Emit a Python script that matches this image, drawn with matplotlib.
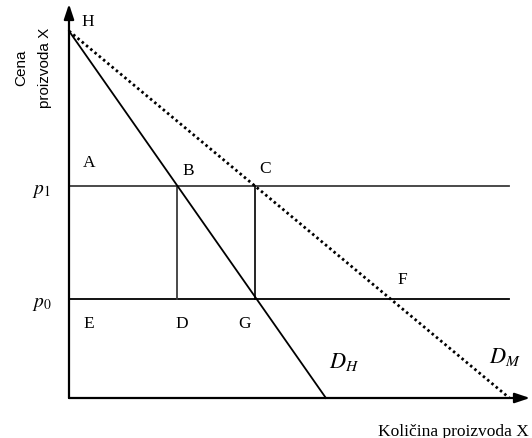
import matplotlib
matplotlib.use("Agg")
import matplotlib.pyplot as plt

# Data (model units)
price_max = 10.0          # H: common vertical intercept
qty_home = 7.0            # D_H horizontal intercept
qty_market = 12.0         # D_M horizontal intercept
p1 = 5.78
p0 = 2.70
line_end = 12.0
point_labels = ["H", "A", "B", "C", "F", "E", "D", "G"]

plt.rcParams["mathtext.fontset"] = "stix"
serif = ["Liberation Serif", "DejaVu Serif"]
sans = ["Liberation Sans", "DejaVu Sans"]

W, H = 532, 439
s = 36.7  # px per unit
ox, oy = 69, 399

fig = plt.figure(figsize=(W / 100, H / 100), dpi=100)
ax = fig.add_axes([0, 0, 1, 1])
ax.set_xlim(-ox / s, (W - ox) / s)
ax.set_ylim(-(H - oy) / s, oy / s)
ax.axis("off")

def qx(curve_int, p):
    return curve_int * (1 - p / price_max)

xB = qx(qty_home, p1)
xC = qx(qty_market, p1)

# axes arrows
ax.annotate("", xy=(0, (oy - 5) / s), xytext=(0, 0),
            arrowprops=dict(arrowstyle="-|>,head_length=0.9,head_width=0.3", color="black", lw=1.6,
                            shrinkA=0, shrinkB=0))
ax.annotate("", xy=((530 - ox) / s, 0), xytext=(0, 0),
            arrowprops=dict(arrowstyle="-|>,head_length=0.9,head_width=0.3", color="black", lw=1.6,
                            shrinkA=0, shrinkB=0))

gray = "#3a3a3a"
ax.plot([0, line_end], [p1, p1], color=gray, lw=1.3)
ax.plot([0, line_end], [p0, p0], color="black", lw=1.3)
ax.plot([xB, xB], [p0, p1], color=gray, lw=1.3)
ax.plot([xC, xC], [p0, p1], color="black", lw=1.2)

ax.plot([0, qty_home], [price_max, 0], color="black", lw=1.3)
ax.plot([0, qty_market], [price_max, 0], color="black", lw=2.0,
        linestyle=(0, (0.9, 1.1)))

fs = 12.5
def lab(x, y, t, **kw):
    ax.text(x, y, t, ha="center", va="center", fontsize=fs, family=serif, **kw)

lab(0.52, 10.27, "H")
lab(0.54, 6.43, "A")
lab(3.24, 6.21, "B")
lab(5.34, 6.27, "C")
lab(9.07, 3.24, "F")
lab(0.54, 2.04, "E")
lab(3.08, 2.04, "D")
lab(4.77, 2.04, "G")

ax.text(-0.74, 5.69, r"$p_1$", ha="center", va="center", fontsize=14)
ax.text(-0.74, 2.59, r"$p_0$", ha="center", va="center", fontsize=14)
ax.text(7.49, 1.01, r"$D_{H}$", ha="center", va="center", fontsize=16)
ax.text(11.88, 1.14, r"$D_{M}$", ha="center", va="center", fontsize=16)

ax.text(10.46, -0.90, "Količina proizvoda X", ha="center", va="center",
        fontsize=12.5, family=serif)
ax.text(-1.31, 9.02, "Cena", ha="center", va="center", rotation=90,
        fontsize=11, family=sans)
ax.text(-0.65, 9.02, "proizvoda X", ha="center", va="center", rotation=90,
        fontsize=11, family=sans)

fig.savefig("out.png", dpi=100)
